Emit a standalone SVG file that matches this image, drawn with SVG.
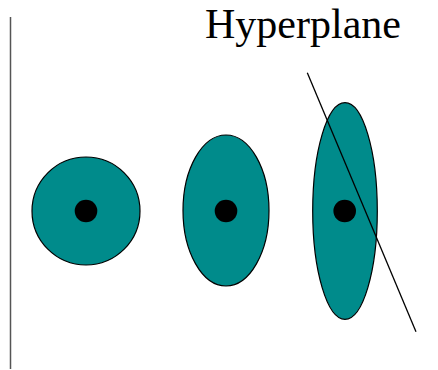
<svg xmlns="http://www.w3.org/2000/svg" width="438" height="370" viewBox="0 0 438 370">
<style>
.blob{fill:#008B8B;stroke:#000;stroke-width:1.2}
.dot{fill:#000}
.lbl{font-family:"Liberation Serif","Times New Roman",serif;font-size:42px;fill:#000}
</style>
<rect width="438" height="370" fill="#fff"/>
<g id="axis"><line x1="10.5" y1="17" x2="10.5" y2="369" stroke="#555" stroke-width="1.5"/></g>
<g id="node-circle">
<circle class="blob" cx="86" cy="211" r="54"/>
<circle class="dot" cx="86" cy="211" r="11.3"/>
</g>
<g id="node-ellipse2">
<ellipse class="blob" cx="226" cy="210.5" rx="43" ry="75.5"/>
<circle class="dot" cx="226" cy="211" r="11.3"/>
</g>
<g id="node-ellipse3">
<ellipse class="blob" cx="345" cy="211" rx="32.3" ry="108.3"/>
<circle class="dot" cx="344.7" cy="211" r="11.3"/>
</g>
<g id="connectors">
<line x1="307.3" y1="72.7" x2="416" y2="331.7" stroke="#000" stroke-width="1.3"/>
</g>
<g id="label"><text class="lbl" x="205" y="38">Hyperplane</text></g>
</svg>
